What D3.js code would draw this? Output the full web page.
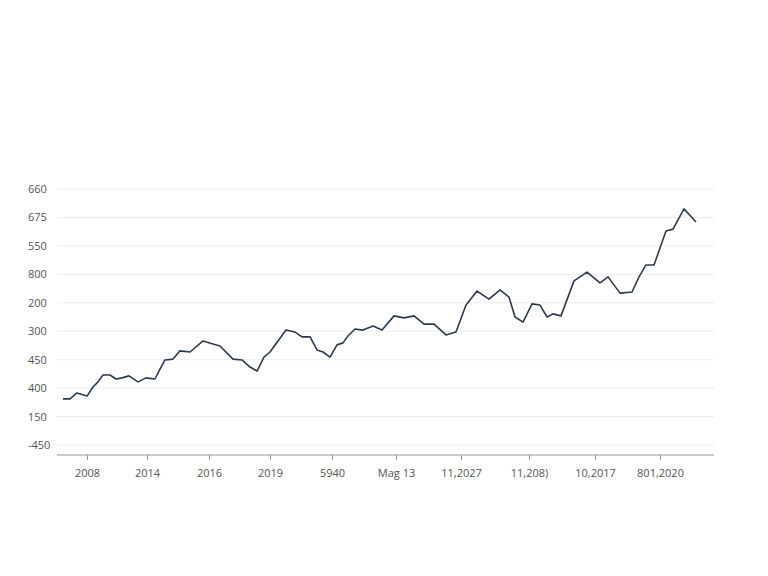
<!DOCTYPE html>
<html><head><meta charset="utf-8">
<script src="https://cdn.jsdelivr.net/npm/d3@7"></script>
<style>body{margin:0;background:#fff}svg{font-family:"Open Sans",sans-serif}</style>
</head><body><svg id="c" width="768" height="576"></svg>
<script>
const yTickLabels = ["-450","150","400","450","300","200","800","550","675","660"];
const xTickLabels = ["2008","2014","2016","2019","5940","Mag 13","11,2027","11,208)","10,2017","801,2020"];
const xTickPos = [30,90,152,213,275,339,404,472,538,603];
const xs = [6,13,20,30,36,41,46,53,59,65,72,81,89,98,103,108,116,123,133,146,156,163,176,185,193,200,207,213,229,238,245,253,260,266,273,280,286,291,298,306,316,325,337,347,357,367,377,389,399,409,420,432,443,452,458,466,475,483,490,496,504,517,530,543,551,563,575,582,589,597,609,616,627,639];
const vals = [1.62,1.62,1.83,1.72,2.04,2.22,2.46,2.46,2.32,2.36,2.43,2.22,2.36,2.32,2.67,2.99,3.02,3.31,3.27,3.66,3.55,3.48,3.02,2.99,2.74,2.60,3.09,3.27,4.04,3.97,3.80,3.80,3.34,3.27,3.09,3.52,3.59,3.83,4.08,4.04,4.18,4.04,4.54,4.47,4.54,4.25,4.25,3.87,3.97,4.92,5.41,5.13,5.45,5.20,4.50,4.32,4.96,4.92,4.50,4.61,4.54,5.77,6.08,5.70,5.91,5.34,5.38,5.91,6.33,6.33,7.52,7.59,8.30,7.84];
const svg = d3.select("#c");
const x = d3.scaleLinear().domain([0,657]).range([57,714]);
const y = d3.scaleLinear().domain([0,9]).range([445,189]);
const ti = d3.range(yTickLabels.length);
svg.append("g").selectAll("line").data(ti).join("line")
  .attr("x1",57).attr("x2",714).attr("y1",d=>y(d)).attr("y2",d=>y(d))
  .attr("stroke","#ececec").attr("stroke-width",1);
svg.append("g").selectAll("text").data(ti).join("text")
  .attr("x",28).attr("y",d=>y(d)+4).attr("font-size",11).attr("fill","#555")
  .text(d=>yTickLabels[d]);
const xa = svg.append("g").attr("transform","translate(0,455)")
  .call(d3.axisBottom(x).tickValues(xTickPos).tickSize(5).tickFormat((d,i)=>xTickLabels[i]));
xa.select(".domain").attr("stroke","#999").attr("d","M57,0H714");
xa.selectAll(".tick line").attr("stroke","#999");
xa.selectAll("text").attr("font-size",11).attr("fill","#555").attr("dy","1.3em").attr("font-family","Open Sans");
svg.append("path").datum(xs.map((d,i)=>[d,vals[i]]))
  .attr("fill","none").attr("stroke","#2c3a50").attr("stroke-width",1.6).attr("stroke-linejoin","round")
  .attr("d",d3.line().x(d=>x(d[0])).y(d=>y(d[1])));
</script></body></html>
